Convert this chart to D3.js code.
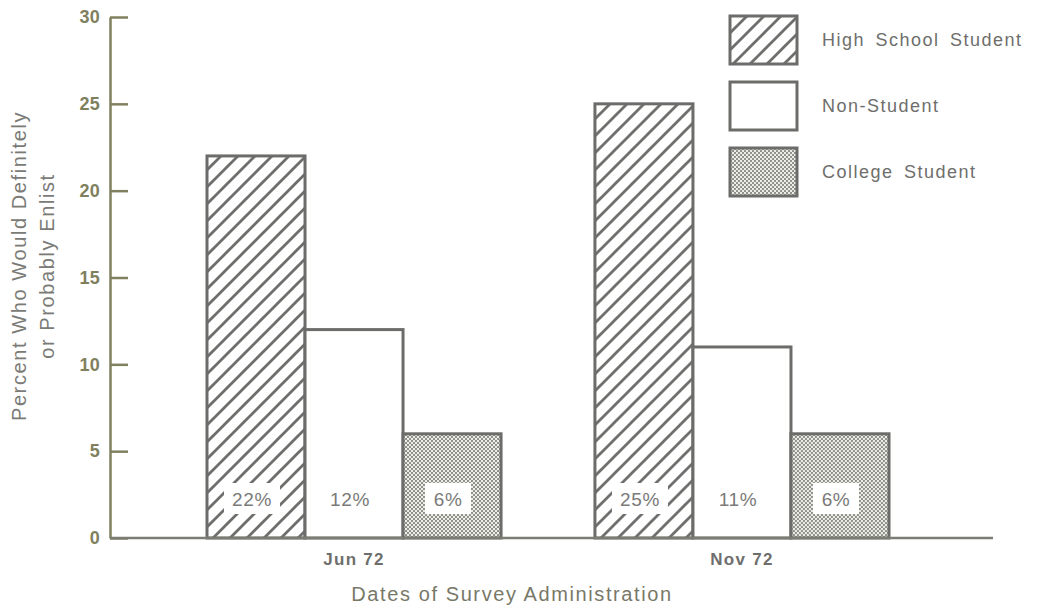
<!DOCTYPE html>
<html>
<head>
<meta charset="utf-8">
<script src="https://cdn.jsdelivr.net/npm/d3@7"></script>
<style>
  html, body { margin: 0; padding: 0; background: #fff; }
  svg { display: block; font-family: "Liberation Sans", Arial, Helvetica, sans-serif; }
</style>
</head>
<body>
<svg id="chart" width="1043" height="609"></svg>
<script>
// Survey dates and respondent groups
const dates = ["Jun 72", "Nov 72"];
const groups = ["High School Student", "Non-Student", "College Student"];

// Percent who would definitely or probably enlist, by date
const highSchool = [22, 25];
const nonStudent = [12, 11];
const college = [6, 6];

const yTicks = [0, 5, 10, 15, 20, 25, 30];

const seriesValues = [highSchool, nonStudent, college];

const svg = d3.select("#chart");

const plot = { left: 110, right: 993, top: 17, bottom: 538 };

const y = d3.scaleLinear().domain([0, 30]).range([plot.bottom, plot.top]);

const x0 = d3.scaleBand()
  .domain(dates)
  .range([207, 889])
  .paddingInner(0.242)
  .paddingOuter(0);

const x1 = d3.scaleBand()
  .domain(groups)
  .range([0, x0.bandwidth()])
  .padding(0);

// Fill patterns
const defs = svg.append("defs");

const hatch = defs.append("pattern")
  .attr("id", "hatch")
  .attr("patternUnits", "userSpaceOnUse")
  .attr("width", 17).attr("height", 17);
hatch.append("rect").attr("width", 17).attr("height", 17).attr("fill", "#fff");
hatch.append("path")
  .attr("d", "M-4,21 L21,-4 M-4,4 L4,-4 M13,21 L21,13")
  .attr("stroke", "#6e6e6c")
  .attr("stroke-width", 2.8)
  .attr("fill", "none");

const dots = defs.append("pattern")
  .attr("id", "dots")
  .attr("patternUnits", "userSpaceOnUse")
  .attr("width", 4).attr("height", 4);
dots.append("rect").attr("width", 4).attr("height", 4).attr("fill", "#eeeee8");
dots.append("circle").attr("cx", 1).attr("cy", 1).attr("r", 1.05).attr("fill", "#84847e");
dots.append("circle").attr("cx", 3).attr("cy", 3).attr("r", 1.05).attr("fill", "#84847e");

const fills = {
  "High School Student": "url(#hatch)",
  "Non-Student": "#fff",
  "College Student": "url(#dots)"
};
const labelBox = {
  "High School Student": true,
  "Non-Student": false,
  "College Student": true
};

const barStroke = "#6c6c6a";
const textGray = "#6e6e6c";
const olive = "#80805e";

// Bars
const rows = dates.map((d, i) => ({
  date: d,
  bars: groups.map((g, j) => ({ group: g, value: seriesValues[j][i] }))
}));

const groupSel = svg.append("g").selectAll("g.date")
  .data(rows)
  .join("g")
  .attr("class", "date")
  .attr("transform", d => `translate(${x0(d.date)},0)`);

groupSel.selectAll("rect.bar")
  .data(d => d.bars)
  .join("rect")
  .attr("class", "bar")
  .attr("x", d => x1(d.group))
  .attr("y", d => y(d.value))
  .attr("width", x1.bandwidth())
  .attr("height", d => y(0) - y(d.value))
  .attr("fill", d => fills[d.group])
  .attr("stroke", barStroke)
  .attr("stroke-width", 3);

// Value labels near the base of each bar
const labelY = y(0) - 39;
const labels = groupSel.selectAll("g.vlabel")
  .data(d => d.bars)
  .join("g")
  .attr("class", "vlabel")
  .attr("transform", d => `translate(${x1(d.group) + x1.bandwidth() / 2 - 4},${labelY})`);

labels.filter(d => labelBox[d.group])
  .append("rect")
  .attr("x", d => d.value >= 10 ? -28 : -23)
  .attr("y", -16)
  .attr("width", d => d.value >= 10 ? 56 : 46)
  .attr("height", 31)
  .attr("fill", "#fff");

labels.append("text")
  .attr("text-anchor", "middle")
  .attr("dy", "0.36em")
  .attr("font-size", 19)
  .attr("letter-spacing", 0.6)
  .attr("fill", "#7a7a78")
  .text(d => `${d.value}%`);

// Y axis
const yAxis = d3.axisLeft(y)
  .tickValues(yTicks)
  .tickSizeInner(-18)
  .tickSizeOuter(0)
  .tickPadding(10);

const yg = svg.append("g")
  .attr("transform", `translate(${plot.left},0)`)
  .call(yAxis);
yg.select(".domain").attr("stroke", olive).attr("stroke-width", 2.5);
yg.selectAll(".tick line").attr("stroke", olive).attr("stroke-width", 2.5);
yg.selectAll(".tick text")
  .attr("font-size", 18)
  .attr("font-weight", "bold")
  .attr("letter-spacing", 0.3)
  .attr("fill", olive)
  .attr("font-family", "Liberation Sans, Arial, sans-serif");

// X axis baseline and date labels
svg.append("line")
  .attr("x1", plot.left).attr("x2", plot.right)
  .attr("y1", y(0)).attr("y2", y(0))
  .attr("stroke", "#7c7c74")
  .attr("stroke-width", 2.5);

const xAxis = d3.axisBottom(x0).tickSize(0).tickPadding(15);
const xg = svg.append("g")
  .attr("transform", `translate(0,${y(0)})`)
  .call(xAxis);
xg.select(".domain").remove();
xg.selectAll(".tick text")
  .attr("font-size", 17)
  .attr("font-weight", "bold")
  .attr("letter-spacing", 1.3)
  .attr("fill", textGray)
  .attr("font-family", "Liberation Sans, Arial, sans-serif");

// Axis titles
svg.append("text")
  .attr("x", 512).attr("y", 601)
  .attr("text-anchor", "middle")
  .attr("font-size", 20)
  .attr("letter-spacing", 1.6)
  .attr("fill", "#787868")
  .text("Dates of Survey Administration");

const yTitle = svg.append("text")
  .attr("transform", "translate(0,266) rotate(-90)")
  .attr("text-anchor", "middle")
  .attr("font-size", 20)
  .attr("letter-spacing", 1.6)
  .attr("fill", "#7a7a76");
yTitle.append("tspan").attr("x", 0).attr("y", 26).text("Percent Who Would Definitely");
yTitle.append("tspan").attr("x", 0).attr("y", 54).text("or Probably Enlist");

// Legend
const legend = svg.append("g")
  .attr("transform", "translate(730,16)")
  .selectAll("g")
  .data(groups)
  .join("g")
  .attr("transform", (d, i) => `translate(0,${i * 66})`);

legend.append("rect")
  .attr("width", 67)
  .attr("height", 48)
  .attr("fill", d => fills[d])
  .attr("stroke", barStroke)
  .attr("stroke-width", 3);

legend.append("text")
  .attr("x", 92)
  .attr("y", 24)
  .attr("dy", "0.35em")
  .attr("font-size", 18)
  .attr("letter-spacing", 1.5)
  .attr("word-spacing", 4)
  .attr("fill", textGray)
  .text(d => d);
</script>
</body>
</html>
